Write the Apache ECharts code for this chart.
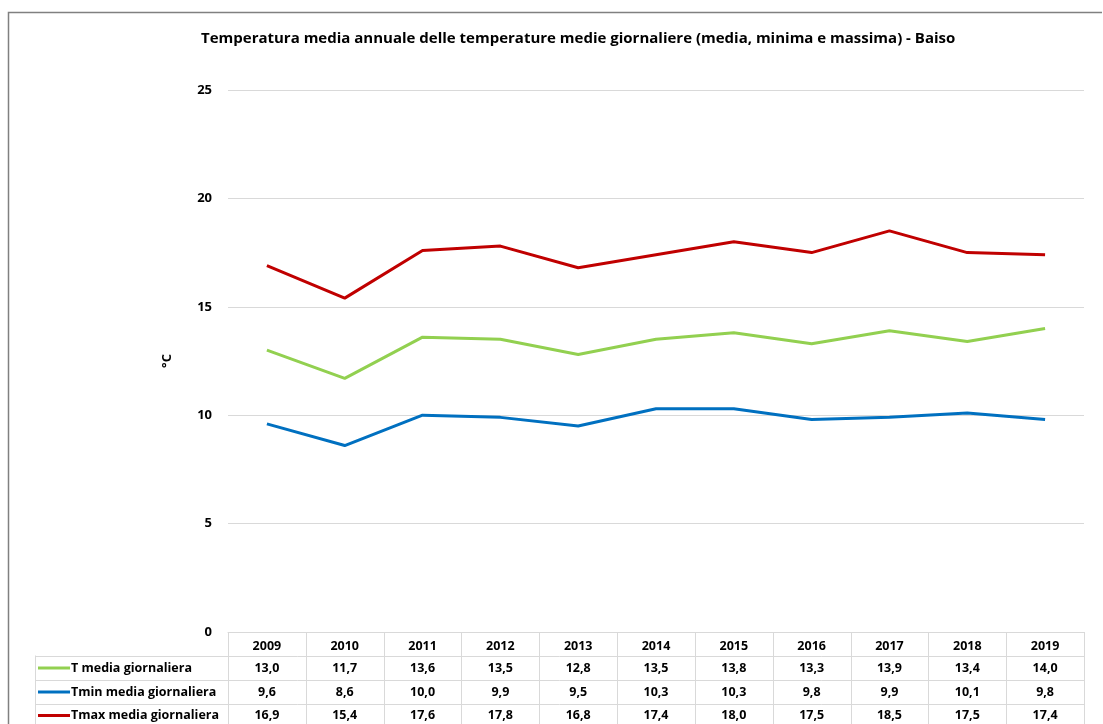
<!DOCTYPE html>
<html>
<head>
<meta charset="utf-8">
<script src="https://cdn.jsdelivr.net/npm/echarts@6/dist/echarts.min.js"></script>
<style>
html,body{margin:0;padding:0;background:#fff;}
#c{width:1103px;height:724px;}
</style>
</head>
<body>
<div id="c"></div>
<script>
const years = ['2009','2010','2011','2012','2013','2014','2015','2016','2017','2018','2019'];
const tMedia = [13.0, 11.7, 13.6, 13.5, 12.8, 13.5, 13.8, 13.3, 13.9, 13.4, 14.0];
const tMin = [9.6, 8.6, 10.0, 9.9, 9.5, 10.3, 10.3, 9.8, 9.9, 10.1, 9.8];
const tMax = [16.9, 15.4, 17.6, 17.8, 16.8, 17.4, 18.0, 17.5, 18.5, 17.5, 17.4];
const seriesNames = ['T media giornaliera', 'Tmin media giornaliera', 'Tmax media giornaliera'];
const seriesColors = ['#92d050', '#0070c0', '#c00000'];
const yTicks = [0, 5, 10, 15, 20, 25];
const titleText = 'Temperatura media annuale delle temperature medie giornaliere (media, minima e massima) - Baiso';
const yName = '°C';

const FONT = 'Open Sans';
const seriesData = [tMedia, tMin, tMax];

const chart = echarts.init(document.getElementById('c'), null, {renderer: 'canvas'});
const option = {
  animation: false,
  backgroundColor: '#fff',
  title: {
    text: titleText,
    left: 196,
    top: 26,
    textStyle: {fontFamily: FONT, fontWeight: 'bold', fontSize: 15, color: '#000'}
  },
  grid: {left: 228, right: 19, top: 90, bottom: 92, containLabel: false},
  xAxis: {
    type: 'category',
    data: years,
    boundaryGap: true,
    axisLine: {show: true, lineStyle: {color: '#d9d9d9', width: 1}},
    axisTick: {show: false},
    axisLabel: {fontFamily: FONT, fontWeight: 'bold', fontSize: 12.5, color: '#000', margin: 8},
    splitLine: {show: false}
  },
  yAxis: {
    type: 'value',
    min: yTicks[0],
    max: yTicks[yTicks.length - 1],
    interval: 5,
    name: yName,
    nameLocation: 'middle',
    nameGap: 54,
    nameTextStyle: {fontFamily: FONT, fontWeight: 'bold', fontSize: 13, color: '#000'},
    axisLine: {show: false},
    axisTick: {show: false},
    axisLabel: {fontFamily: FONT, fontWeight: 'bold', fontSize: 13, color: '#000', margin: 16},
    splitLine: {lineStyle: {color: '#d9d9d9', width: 1}}
  },
  series: seriesNames.map((n, i) => ({
    name: n,
    type: 'line',
    data: seriesData[i],
    symbol: 'none',
    lineStyle: {color: seriesColors[i], width: 3},
    itemStyle: {color: seriesColors[i]}
  }))
};
chart.setOption(option);

function buildTable() {
  const xs = years.map((y, i) => chart.convertToPixel({xAxisIndex: 0}, i));
  const step = xs.length > 1 ? xs[1] - xs[0] : 78;
  const y0 = chart.convertToPixel({yAxisIndex: 0}, 0);
  const left = xs[0] - step / 2;
  const right = xs[xs.length - 1] + step / 2;
  const headerH = 23.5;
  const rowH = 24;
  const legendLeft = 35;
  const els = [];
  const lineStyle = {stroke: '#d9d9d9', lineWidth: 1};
  els.push({type: 'polyline', shape: {points: [[8.5, 724], [8.5, 12.5], [1102, 12.5]]}, style: {stroke: '#808080', lineWidth: 1.5, fill: null}, silent: true});
  for (let k = 0; k <= xs.length; k++) {
    const x = Math.round(left + k * step) + 0.5;
    els.push({type: 'line', shape: {x1: x, y1: y0, x2: x, y2: 724}, style: lineStyle, silent: true});
  }
  els.push({type: 'line', shape: {x1: legendLeft + 0.5, y1: y0 + headerH, x2: legendLeft + 0.5, y2: 724}, style: lineStyle, silent: true});
  for (let r = 0; r < seriesNames.length; r++) {
    const yt = Math.round(y0 + headerH + r * rowH) + 0.5;
    els.push({type: 'line', shape: {x1: legendLeft, y1: yt, x2: right, y2: yt}, style: lineStyle, silent: true});
    const cy = yt + rowH / 2 - 0.5 - (r === 2 ? 0.5 : 0);
    els.push({type: 'line', shape: {x1: legendLeft + 3, y1: cy, x2: legendLeft + 35, y2: cy}, style: {stroke: seriesColors[r], lineWidth: 3}, silent: true});
    els.push({type: 'text', x: legendLeft + 36, y: cy, style: {text: seriesNames[r], fontFamily: FONT, fontWeight: 'bold', fontSize: 12.5, fill: '#000', textAlign: 'left', textVerticalAlign: 'middle'}, silent: true});
    seriesData[r].forEach((v, i) => {
      els.push({type: 'text', x: xs[i], y: cy, style: {text: v.toFixed(1).replace('.', ','), fontFamily: FONT, fontWeight: 'bold', fontSize: 12.5, fill: '#000', textAlign: 'center', textVerticalAlign: 'middle'}, silent: true});
    });
  }
  chart.setOption({graphic: {elements: els}});
}
buildTable();
</script>
</body>
</html>
